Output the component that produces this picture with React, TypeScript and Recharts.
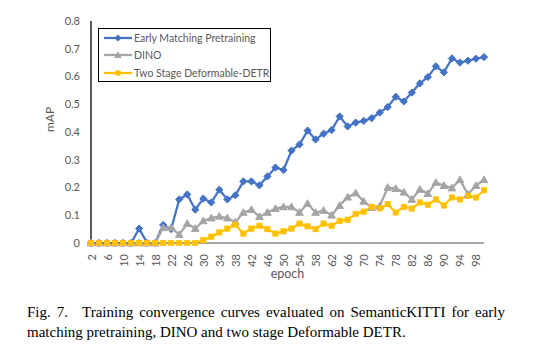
import React from "react";
import { LineChart, Line, XAxis, YAxis } from "recharts";

const epochs = [2,4,6,8,10,12,14,16,18,20,22,24,26,28,30,32,34,36,38,40,42,44,46,48,50,52,54,56,58,60,62,64,66,68,70,72,74,76,78,80,82,84,86,88,90,92,94,96,98,100];

const earlyMatching = [0,0,0,0,0,0,0.052,0,0,0.065,0.05,0.157,0.175,0.12,0.16,0.146,0.192,0.157,0.172,0.222,0.222,0.208,0.24,0.272,0.263,0.333,0.355,0.405,0.373,0.394,0.407,0.456,0.42,0.434,0.44,0.45,0.47,0.49,0.527,0.51,0.542,0.575,0.598,0.637,0.615,0.665,0.65,0.657,0.664,0.67];

const dino = [0,0,0,0,0,0,0,0,0,0.055,0.055,0.03,0.07,0.052,0.08,0.09,0.096,0.09,0.075,0.11,0.12,0.095,0.11,0.124,0.13,0.13,0.11,0.142,0.11,0.117,0.1,0.135,0.165,0.18,0.15,0.128,0.133,0.2,0.196,0.183,0.157,0.193,0.178,0.218,0.207,0.198,0.228,0.175,0.207,0.228];

const twoStage = [0,0,0,0,0,0,0,0,0,0,0,0,0,0,0.01,0.023,0.038,0.052,0.066,0.034,0.052,0.062,0.05,0.034,0.042,0.052,0.07,0.06,0.05,0.07,0.062,0.08,0.084,0.105,0.113,0.13,0.125,0.14,0.11,0.13,0.124,0.146,0.138,0.157,0.135,0.164,0.157,0.17,0.164,0.19];

const yTicks = [0, 0.1, 0.2, 0.3, 0.4, 0.5, 0.6, 0.7, 0.8];

const seriesNames = ["Early Matching Pretraining", "DINO", "Two Stage Deformable-DETR"];
const colors = ["#4472C4", "#A5A5A5", "#FFC000"];

const data = epochs.map((e, i) => ({
  epoch: e,
  a: earlyMatching[i],
  b: dino[i],
  c: twoStage[i],
}));

const FONT = "Lato, 'Open Sans', sans-serif";
const TXT = "#595959";

const Diamond = (props: any) => {
  const { cx, cy, index } = props;
  if (cx == null || cy == null) return <g key={`d${index}`} />;
  const r = 3.6;
  return (
    <path key={`d${index}`} d={`M${cx},${cy - r}L${cx + r},${cy}L${cx},${cy + r}L${cx - r},${cy}Z`} fill={colors[0]} stroke={colors[0]} strokeWidth={1} />
  );
};
const Triangle = (props: any) => {
  const { cx, cy, index } = props;
  if (cx == null || cy == null) return <g key={`t${index}`} />;
  const r = 3.8;
  return (
    <path key={`t${index}`} d={`M${cx},${cy - r}L${cx + r},${cy + r * 0.75}L${cx - r},${cy + r * 0.75}Z`} fill={colors[1]} stroke={colors[1]} strokeWidth={1} />
  );
};
const Square = (props: any) => {
  const { cx, cy, index } = props;
  if (cx == null || cy == null) return <g key={`s${index}`} />;
  const r = 2.6;
  return <rect key={`s${index}`} x={cx - r} y={cy - r} width={2 * r} height={2 * r} fill={colors[2]} stroke={colors[2]} strokeWidth={0.8} />;
};

const markers = [
  (x: number, y: number) => <path d={`M${x},${y - 3.6}L${x + 3.6},${y}L${x},${y + 3.6}L${x - 3.6},${y}Z`} fill={colors[0]} />,
  (x: number, y: number) => <path d={`M${x},${y - 3.8}L${x + 3.8},${y + 2.9}L${x - 3.8},${y + 2.9}Z`} fill={colors[1]} />,
  (x: number, y: number) => <rect x={x - 2.6} y={y - 2.6} width={5.2} height={5.2} fill={colors[2]} />,
];

const LegendBox = () => (
  <div
    style={{
      position: "absolute",
      left: 98,
      top: 28,
      width: 173,
      height: 54,
      border: "1px solid #000",
      background: "#fff",
      boxSizing: "border-box",
      fontFamily: FONT,
      fontSize: 10.5,
      color: TXT,
      paddingTop: 0,
    }}
  >
    {seriesNames.map((n, i) => (
      <div key={n} style={{ display: "flex", alignItems: "center", height: 17.5, whiteSpace: "nowrap" }}>
        <svg width={30} height={10} style={{ marginLeft: 4, flex: "none" }}>
          <line x1={1} y1={5} x2={29} y2={5} stroke={colors[i]} strokeWidth={2.25} />
          {markers[i](15, 5)}
        </svg>
        <span style={{ marginLeft: 1 }}>{n}</span>
      </div>
    ))}
  </div>
);

const XTick = (props: any) => {
  const { x, y, payload } = props;
  return (
    <text
      transform={`translate(${x},${y + 3}) rotate(-90)`}
      textAnchor="end"
      dominantBaseline="central"
      fontFamily={FONT}
      fontSize={11}
      fill={TXT}
    >
      {payload.value}
    </text>
  );
};

export default function App() {
  return (
    <div style={{ position: "absolute", left: 0, top: 0, width: 536, height: 357, background: "#fff" }}>
      <LineChart width={536} height={290} data={data} margin={{ top: 21, right: 52, left: 0, bottom: 0 }}>
        <XAxis
          dataKey="epoch"
          interval={1}
          tick={<XTick />}
          tickLine={false}
          height={47}
          axisLine={{ stroke: "#A6A6A6", strokeWidth: 2 }}
          label={{ value: "epoch", position: "insideBottom", offset: 12, fill: TXT, fontSize: 12.5, fontFamily: FONT }}
        />
        <XAxis xAxisId="top" dataKey="epoch" orientation="top" height={0} tick={false} tickLine={false} axisLine={{ stroke: "#000", strokeWidth: 1.3 }} />
        <YAxis
          domain={[0, 0.8]}
          ticks={yTicks}
          width={91}
          tickLine={false}
          tickSize={0}
          tickMargin={11}
          axisLine={{ stroke: "#000", strokeWidth: 1.3 }}
          tick={{ fill: TXT, fontSize: 11, fontFamily: FONT }}
          tickFormatter={(v: number) => String(v)}
          label={{ value: "mAP", angle: -90, position: "insideLeft", offset: 50, fill: TXT, fontSize: 12, fontFamily: FONT }}
        />
        <YAxis yAxisId="right" orientation="right" width={0} domain={[0, 0.8]} tick={false} tickLine={false} axisLine={{ stroke: "#000", strokeWidth: 1.3 }} />
        <Line dataKey="a" stroke={colors[0]} strokeWidth={2.25} dot={<Diamond />} isAnimationActive={false} />
        <Line dataKey="b" stroke={colors[1]} strokeWidth={2.25} dot={<Triangle />} isAnimationActive={false} />
        <Line dataKey="c" stroke={colors[2]} strokeWidth={2.25} dot={<Square />} isAnimationActive={false} />
      </LineChart>
      <LegendBox />
      <div
        style={{
          position: "absolute",
          left: 27,
          top: 302,
          width: 478,
          fontFamily: "'Liberation Serif', 'Times New Roman', serif",
          fontSize: 15,
          lineHeight: "20px",
          color: "#000",
        }}
      >
        <div style={{ textAlign: "justify", textAlignLast: "justify" as any }}>
          Fig. 7.<span style={{ display: "inline-block", width: 14 }} />Training convergence curves evaluated on SemanticKITTI for early
        </div>
        <div>matching pretraining, DINO and two stage Deformable DETR.</div>
      </div>
    </div>
  );
}
